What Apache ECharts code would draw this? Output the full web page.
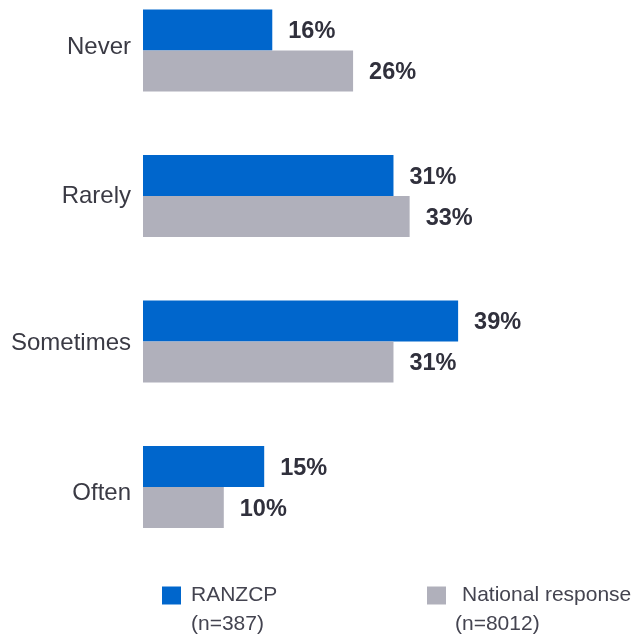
<!DOCTYPE html>
<html><head><meta charset="utf-8">
<script src="https://cdn.jsdelivr.net/npm/echarts@6/dist/echarts.min.js"></script>
<style>html,body{margin:0;padding:0;background:#fff}#c{width:637px;height:639px}</style>
</head><body><div id="c"></div>
<script>
const categories = ["Never", "Rarely", "Sometimes", "Often"];
const ranzcp = [16, 31, 39, 15];
const national = [26, 33, 31, 10];
const seriesNames = ["RANZCP", "National response"];
const sampleSizes = ["(n=387)", "(n=8012)"];

const chart = echarts.init(document.getElementById('c'));
const FONT = '"Liberation Sans", Arial, sans-serif';
const labelCfg = {
  show: true, position: 'right', distance: 16, offset: [0, 2],
  formatter: p => p.value + '%',
  color: '#30303c', fontSize: 23.5, fontWeight: 'bold', fontFamily: FONT
};
const catText = { fontSize: 24, color: '#3a3a44', fontFamily: FONT };
chart.setOption({
  animation: false,
  grid: { left: 143, right: 90, top: 50.5, height: 436.5 },
  xAxis: { type: 'value', min: 0, max: 50, show: false },
  yAxis: {
    type: 'category', data: categories, inverse: true, boundaryGap: false,
    axisLine: { show: false }, axisTick: { show: false },
    axisLabel: {
      margin: 12, ...catText,
      formatter: (v, i) => '{c' + i + '|' + v + '}',
      rich: {
        c0: { ...catText, padding: [0, 0, 6, 0] },
        c1: { ...catText, padding: [0, 0, 0, 0] },
        c2: { ...catText, padding: [4, 0, 0, 0] },
        c3: { ...catText, padding: [12, 0, 0, 0] }
      }
    }
  },
  legend: [
    { data: [seriesNames[0]], left: 162, top: 585, padding: 0, itemWidth: 19, itemHeight: 18, icon: 'rect',
      textStyle: { fontSize: 21, color: '#444450', fontFamily: FONT, padding: [0, 0, 0, 5] } },
    { data: [seriesNames[1]], left: 427, top: 585, padding: 0, itemWidth: 19, itemHeight: 18, icon: 'rect',
      textStyle: { fontSize: 21, color: '#444450', fontFamily: FONT, padding: [0, 0, 0, 11] } }
  ],
  graphic: [
    { type: 'text', left: 191, top: 614, style: { text: sampleSizes[0], fontSize: 21, fill: '#444450', fontFamily: FONT } },
    { type: 'text', left: 455, top: 614, style: { text: sampleSizes[1], fontSize: 21, fill: '#444450', fontFamily: FONT } }
  ],
  series: [
    { name: seriesNames[0], type: 'bar', data: ranzcp, barWidth: 41, barGap: '0%', clip: false,
      itemStyle: { color: '#0066cc' }, label: labelCfg },
    { name: seriesNames[1], type: 'bar', data: national, barWidth: 41, barGap: '0%', clip: false,
      itemStyle: { color: '#b0b0bb' }, label: labelCfg }
  ]
});
</script></body></html>
